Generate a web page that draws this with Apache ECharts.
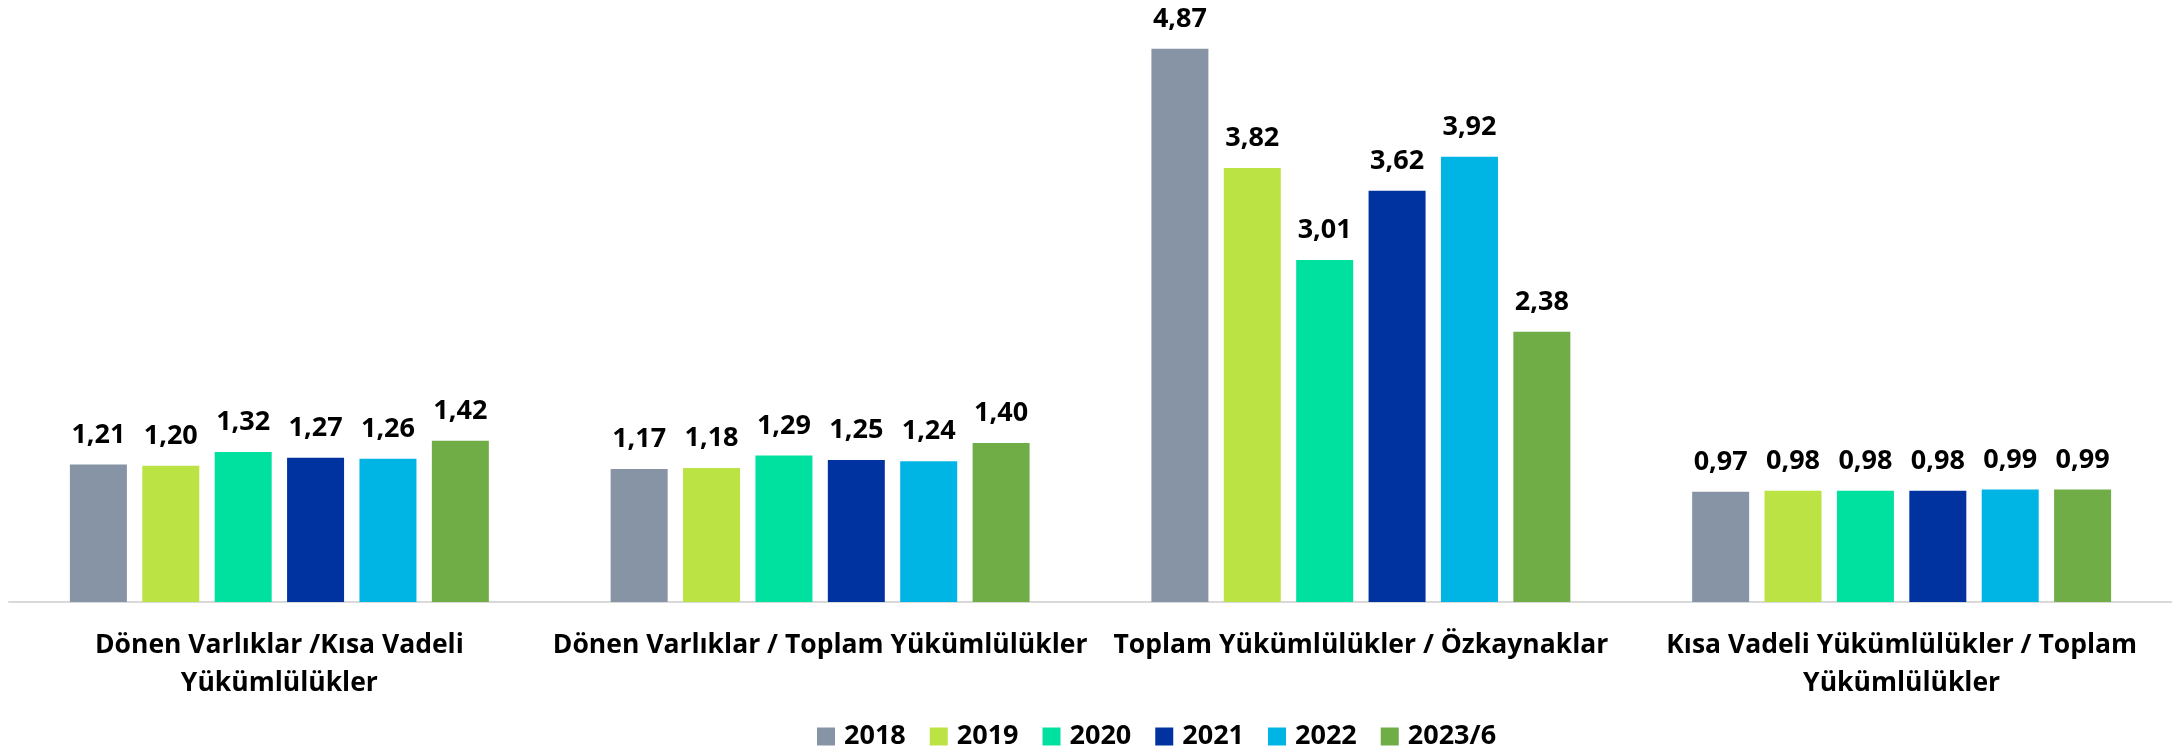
<!DOCTYPE html>
<html>
  <head>
    <meta charset="utf-8" />
    <title>ECharts</title>
    <script src="https://cdn.jsdelivr.net/npm/echarts@6/dist/echarts.min.js"></script>
  </head>
  <body style="margin: 0">
    <div id="main" style="width: 2172px; height: 751px"></div>
    <script type="text/javascript">
      // oranlar, kategori ve yıl bazında
      var categories = [
        "Dönen Varlıklar /Kısa Vadeli\nYükümlülükler",
        "Dönen Varlıklar / Toplam Yükümlülükler",
        "Toplam Yükümlülükler / Özkaynaklar",
        "Kısa Vadeli Yükümlülükler / Toplam\nYükümlülükler",
      ];
      var years = ["2018", "2019", "2020", "2021", "2022", "2023/6"];
      var v2018 = [1.21, 1.17, 4.87, 0.97];
      var v2019 = [1.2, 1.18, 3.82, 0.98];
      var v2020 = [1.32, 1.29, 3.01, 0.98];
      var v2021 = [1.27, 1.25, 3.62, 0.98];
      var v2022 = [1.26, 1.24, 3.92, 0.99];
      var v2023 = [1.42, 1.4, 2.38, 0.99];
      var colors = ["#8794a6", "#bce344", "#00e09e", "#0033a0", "#00b4e3", "#70ad47"];

      var allValues = [v2018, v2019, v2020, v2021, v2022, v2023];
      var font = "Open Sans";

      var series = [];
      for (var i = 0; i < years.length; i++) {
        series.push({
          name: years[i],
          type: "bar",
          data: allValues[i],
          barWidth: 57,
          barGap: "27%",
          itemStyle: { color: colors[i] },
          label: {
            show: true,
            position: "top",
            distance: 16,
            fontFamily: font,
            fontWeight: "bold",
            fontSize: 27,
            color: "#000",
            formatter: function (p) {
              return p.value.toFixed(2).replace(".", ",");
            },
          },
        });
      }

      var chart = echarts.init(document.getElementById("main"));
      chart.setOption({
        animation: false,
        color: colors,
        legend: {
          data: years,
          left: 812,
          top: 718,
          icon: "rect",
          itemWidth: 18,
          itemHeight: 18,
          itemGap: 24,
          textStyle: {
            fontFamily: font,
            fontWeight: "bold",
            fontSize: 27,
            color: "#000",
            padding: [0, 0, 0, 4],
          },
        },
        grid: { left: 9, top: 34, width: 2174, height: 568, containLabel: false },
        xAxis: {
          type: "category",
          data: categories,
          axisLine: { lineStyle: { color: "#d9d9d9", width: 2 } },
          axisTick: { show: false },
          axisLabel: {
            interval: 0,
            margin: 24,
            fontFamily: font,
            fontWeight: "bold",
            fontSize: 26.5,
            lineHeight: 38,
            color: "#000",
          },
        },
        yAxis: {
          type: "value",
          min: 0,
          max: 5,
          show: false,
          splitLine: { show: false },
        },
        series: series,
      });
    </script>
  </body>
</html>
